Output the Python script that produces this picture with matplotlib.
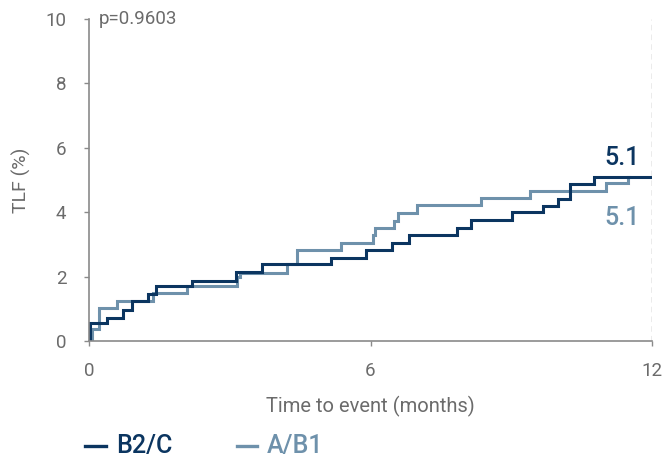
import matplotlib
matplotlib.use("Agg")
import matplotlib.pyplot as plt
from matplotlib.lines import Line2D

plt.rcParams['font.family'] = ['Roboto', 'DejaVu Sans']

# Data (months, cumulative TLF %)
b2c_t = [0.0, 0.02, 0.38, 0.73, 0.91, 1.25, 1.43, 2.19, 3.13, 3.68, 5.16, 5.90,
         6.45, 6.82, 7.84, 8.14, 9.01, 9.68, 10.00, 10.25, 10.76, 11.96]
b2c_y = [0.0, 0.55, 0.72, 0.96, 1.23, 1.46, 1.72, 1.87, 2.15, 2.39, 2.57, 2.83,
         3.03, 3.29, 3.50, 3.76, 4.00, 4.19, 4.41, 4.88, 5.10, 5.10]

ab1_t = [0.0, 0.07, 0.21, 0.59, 1.37, 2.08, 3.15, 3.21, 4.21, 4.43, 5.37, 6.05,
         6.10, 6.50, 6.59, 7.00, 8.35, 9.41, 11.02, 11.49, 11.52]
ab1_y = [0.0, 0.36, 1.01, 1.24, 1.48, 1.72, 2.00, 2.12, 2.39, 2.83, 3.05, 3.29,
         3.50, 3.74, 3.97, 4.22, 4.43, 4.66, 4.90, 5.10, 5.10]

series_names = ["B2/C", "A/B1"]
final_vals = ["5.1", "5.1"]
x_ticks = [0, 6, 12]
y_ticks = [0, 2, 4, 6, 8, 10]
p_text = "p=0.9603"

dark = "#0b3560"
light = "#6e91ab"
grey = "#6b6b6b"

W, H = 663, 457
fig = plt.figure(figsize=(W/100, H/100), dpi=100)
ax = fig.add_axes([89/W, 1-341/H, (652-89)/W, (341-19)/H])

ax.step(ab1_t, ab1_y, where='post', color=light, lw=2.2, solid_joinstyle='miter')
ax.step(b2c_t, b2c_y, where='post', color=dark, lw=2.2, solid_joinstyle='miter')

ax.set_xlim(0, 12)
ax.set_ylim(0, 10)
ax.set_xticks(x_ticks)
ax.set_yticks(y_ticks)
ax.axvline(12, color="#9a9a9a", lw=1, ls=(0, (4, 3)))

for s in ['top', 'right']:
    ax.spines[s].set_visible(False)
for s in ['left', 'bottom']:
    ax.spines[s].set_color("#8a8a8a")
    ax.spines[s].set_linewidth(1.2)
ax.tick_params(axis='both', direction='out', length=3.3, width=1, color="#8a8a8a",
               labelcolor=grey, labelsize=13.5)
ax.tick_params(axis='x', pad=12)
ax.tick_params(axis='y', pad=13)

ax.set_ylabel("TLF (%)", color=grey, fontsize=14)
ax.yaxis.set_label_coords(-58/(652-89), 0.5)
ax.set_xlabel("Time to event (months)", color=grey, fontsize=14.5, labelpad=11)

ax.text(0.2, 10, p_text, color=grey, fontsize=13.5, va='center', ha='left')

ax.text(11.74, 5.47, final_vals[0], color=dark, fontsize=18, fontweight='medium',
        ha='right', va='baseline')
ax.text(11.74, 3.6, final_vals[1], color=light, fontsize=18, fontweight='medium',
        ha='right', va='baseline')

# legend
ly = 1 - 446/H
fig.add_artist(Line2D([85/W, 106/W], [ly, ly], color=dark, lw=2.4, transform=fig.transFigure))
fig.text(116/W, 1-446/H, series_names[0], color=dark, fontsize=18, va='center', ha='left', fontweight='medium')
fig.add_artist(Line2D([237/W, 257/W], [ly, ly], color=light, lw=2.4, transform=fig.transFigure))
fig.text(267/W, 1-446/H, series_names[1], color=light, fontsize=18, va='center', ha='left', fontweight='medium')

fig.savefig("out.png", dpi=100)
